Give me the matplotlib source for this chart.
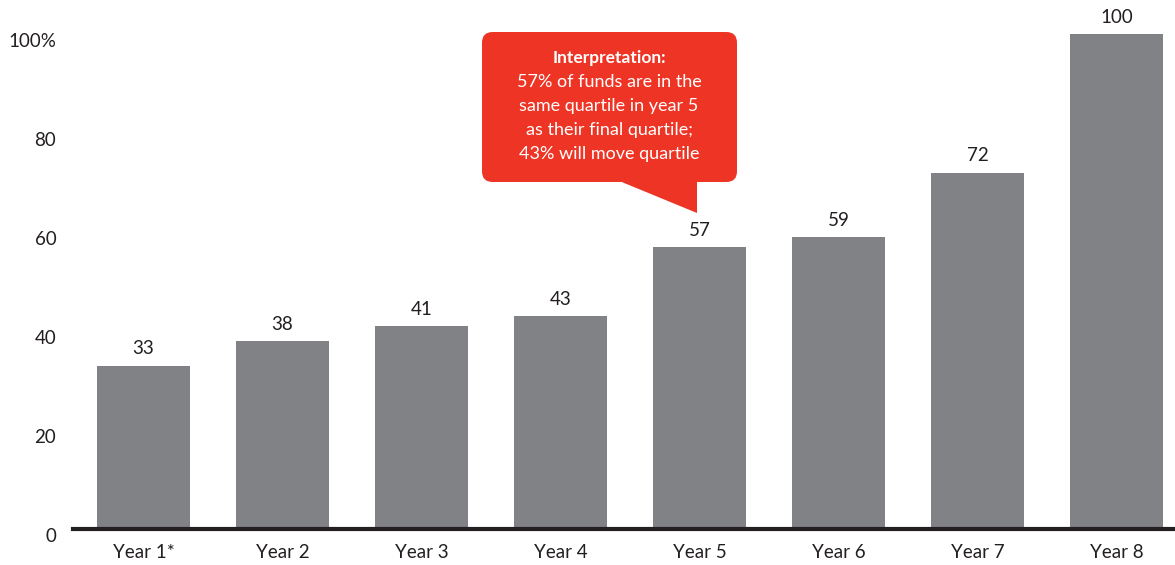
import matplotlib
matplotlib.use("Agg")
import matplotlib.pyplot as plt
import matplotlib.transforms as mtrans
from matplotlib.patches import FancyBboxPatch, Polygon

categories = ["Year 1*", "Year 2", "Year 3", "Year 4", "Year 5", "Year 6", "Year 7", "Year 8"]
values = [33, 38, 41, 43, 57, 59, 72, 100]
ytick_values = [0, 20, 40, 60, 80, 100]
ytick_labels = ["0", "20", "40", "60", "80", "100%"]
callout_title = "Interpretation:"
callout_lines = ["57% of funds are in the", "same quartile in year 5",
                 "as their final quartile;", "43% will move quartile"]

FONT = ["Lato", "DejaVu Sans"]
plt.rcParams["font.family"] = FONT

W, H = 1175, 565
fig = plt.figure(figsize=(W / 100, H / 100), dpi=100)
ax = fig.add_axes([73 / W, 1 - 529 / H, 1 - 73 / W, (529 - 34) / H])

x = list(range(len(categories)))
ax.bar(x, values, width=0.67, color="#818286", zorder=2)
for xi, v in zip(x, values):
    ax.annotate(str(v), (xi, v), xytext=(0, 6), textcoords="offset points",
                ha="center", va="bottom", fontsize=13.5, color="#231f20",
                clip_on=False, annotation_clip=False)

ax.set_xlim(-0.507, 7.42)
ax.set_ylim(0, 100)
ax.set_xticks(x)
ax.set_xticklabels(categories, fontsize=13.5, color="#231f20")
ax.set_yticks(ytick_values)
ax.set_yticklabels(ytick_labels, fontsize=13.5, color="#231f20")
ax.tick_params(axis="both", length=0)
ax.tick_params(axis="x", pad=11)
ax.tick_params(axis="y", pad=12)
offset = mtrans.ScaledTranslation(0, -4.5 / 72, fig.dpi_scale_trans)
for lbl in ax.get_yticklabels():
    lbl.set_transform(lbl.get_transform() + offset)
for s in ["left", "right", "top"]:
    ax.spines[s].set_visible(False)
ax.spines["bottom"].set_linewidth(3)
ax.spines["bottom"].set_color("#231f20")
ax.spines["bottom"].set_zorder(3)

# callout
red = "#ee3424"
def fx(px):
    return px / W
def fy(py):
    return 1 - py / H

box = FancyBboxPatch((fx(492), fy(171)), 0.1, 0.1,
                     boxstyle="round,pad=0.0085,rounding_size=0.009",
                     transform=fig.transFigure, facecolor=red, edgecolor="none",
                     mutation_aspect=W / H, zorder=5)
box.set_bounds(fx(492), fy(172), fx(727) - fx(492), fy(42) - fy(172))
fig.patches.append(box)
tail = Polygon([(fx(612), fy(178)), (fx(697), fy(178)), (fx(697), fy(213))],
               closed=True, transform=fig.transFigure, facecolor=red,
               edgecolor="none", zorder=5)
fig.patches.append(tail)

cx = fx(609)
fig.text(cx, fy(58), callout_title, ha="center", va="center", fontsize=12.5,
         fontweight="bold", color="white", zorder=6)
for i, line in enumerate(callout_lines):
    fig.text(cx, fy(82 + i * 24), line, ha="center", va="center", fontsize=13,
             color="white", zorder=6)

fig.savefig("out.png", dpi=100)
